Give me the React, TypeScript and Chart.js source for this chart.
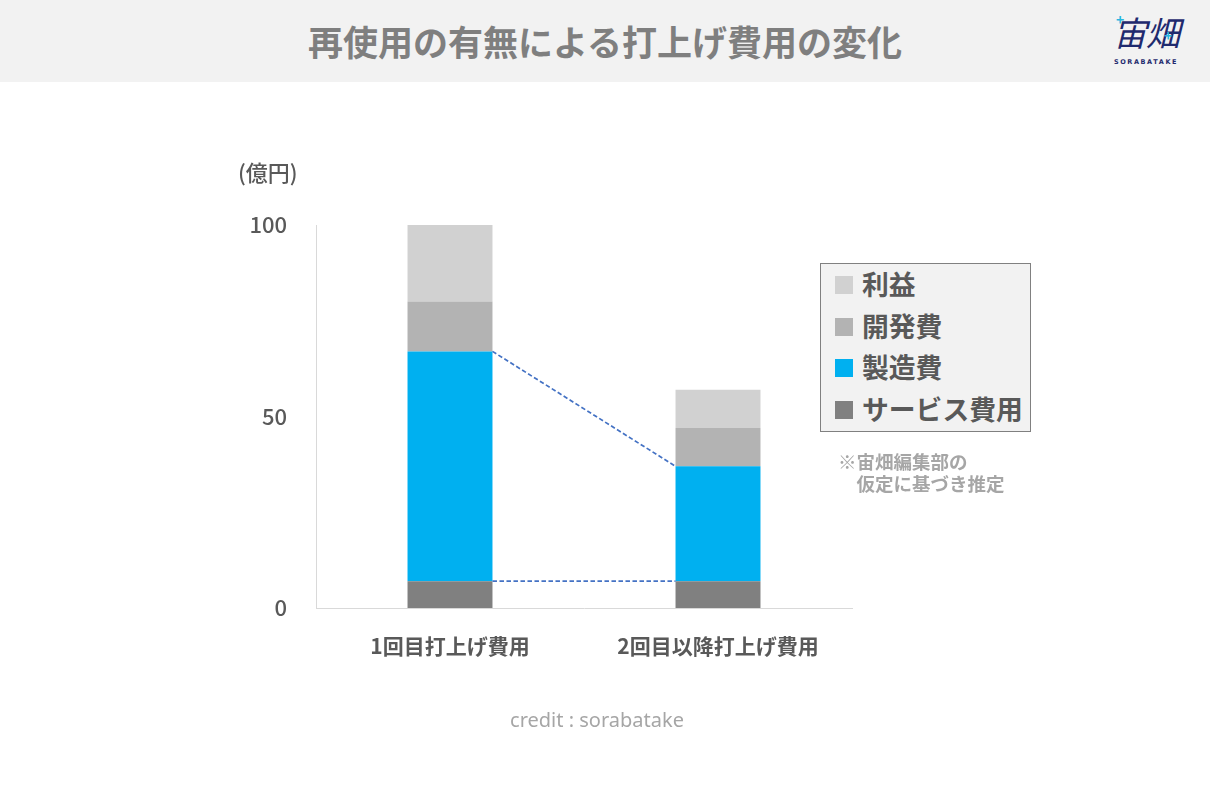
import React, { useEffect, useRef } from "react";
import { Chart, registerables } from "chart.js";

Chart.register(...registerables);

const categories = ["1回目打上げ費用", "2回目以降打上げ費用"];
const seriesNames = ["サービス費用", "製造費", "開発費", "利益"];
const serviceCost = [7, 7];
const manufacturingCost = [60, 30];
const developmentCost = [13, 10];
const profit = [20, 10];
const seriesColors = ["#808080", "#00b0f0", "#b3b3b3", "#d1d1d1"];
const yTicks = [0, 50, 100];

const JP = '"Noto Sans CJK JP", "Noto Sans", sans-serif';

const connectorPlugin = {
  id: "connectors",
  afterDatasetsDraw(chart: any) {
    const ctx = chart.ctx;
    ctx.save();
    ctx.strokeStyle = "#4472c4";
    ctx.lineWidth = 1.7;
    ctx.setLineDash([4.5, 2.5]);
    [0, 1].forEach((di) => {
      const meta = chart.getDatasetMeta(di);
      const a = meta.data[0] as any;
      const b = meta.data[1] as any;
      if (!a || !b) return;
      ctx.beginPath();
      ctx.moveTo(a.x + a.width / 2, a.y);
      ctx.lineTo(b.x - b.width / 2, b.y);
      ctx.stroke();
    });
    ctx.restore();
  },
};

export default function App() {
  const ref = useRef<HTMLCanvasElement>(null);

  useEffect(() => {
    if (!ref.current) return;
    const values = [serviceCost, manufacturingCost, developmentCost, profit];
    const chart = new Chart(ref.current, {
      type: "bar",
      data: {
        labels: categories,
        datasets: seriesNames.map((name, i) => ({
          label: name,
          data: values[i],
          backgroundColor: seriesColors[i],
          borderWidth: 0,
          barPercentage: 0.317,
          categoryPercentage: 1,
        })),
      },
      options: {
        responsive: false,
        animation: false,
        layout: { padding: { left: 216, right: 358, top: 225, bottom: 137 } },
        plugins: {
          legend: { display: false },
          tooltip: { enabled: false },
          title: { display: false },
        },
        scales: {
          x: {
            stacked: true,
            grid: { display: false, drawTicks: false },
            border: { display: true, color: "#d9d9d9", width: 1 },
            ticks: {
              color: "#595959",
              font: { family: JP, size: 21, weight: "bold" },
              padding: 25,
              maxRotation: 0,
            },
            afterFit: (s: any) => {
              s.height = 60;
            },
          },
          y: {
            stacked: true,
            min: 0,
            max: 100,
            grid: { display: false, drawTicks: false },
            border: { display: true, color: "#d9d9d9", width: 1 },
            afterBuildTicks: (s: any) => {
              s.ticks = yTicks.map((v) => ({ value: v }));
            },
            ticks: {
              color: "#595959",
              font: { family: JP, size: 22, weight: 500 },
              padding: 29,
            },
            afterFit: (s: any) => {
              s.width = 100;
            },
          },
        },
      },
      plugins: [connectorPlugin],
    });
    return () => chart.destroy();
  }, []);

  const legendOrder = [3, 2, 1, 0];

  return (
    <div
      style={{
        position: "absolute",
        left: 0,
        top: 0,
        width: 1210,
        height: 805,
        background: "#ffffff",
        overflow: "hidden",
        fontFamily: JP,
      }}
    >
      <div
        style={{
          position: "absolute",
          left: 0,
          top: 0,
          width: 1210,
          height: 82,
          background: "#f2f2f2",
        }}
      />
      <div
        style={{
          position: "absolute",
          left: 0,
          top: 0,
          width: 1210,
          height: 82,
          lineHeight: "82px",
          textAlign: "center",
          fontSize: 35,
          fontWeight: 700,
          color: "#7f7f7f",
        }}
      >
        再使用の有無による打上げ費用の変化
      </div>
      {/* logo */}
      <div
        style={{
          position: "absolute",
          left: 1104,
          top: 10,
          width: 84,
          height: 50,
          textAlign: "center",
        }}
      >
        <div
          style={{
            fontSize: 34,
            fontWeight: 400,
            fontStyle: "italic",
            color: "#1f2a6e",
            lineHeight: "44px",
            letterSpacing: -1,
          }}
        >
          宙畑
        </div>
        <div
          style={{
            position: "absolute",
            left: 12,
            top: 2,
            fontSize: 14,
            fontWeight: 700,
            color: "#29b6e0",
            lineHeight: "14px",
          }}
        >
          +
        </div>
        <div
          style={{
            position: "absolute",
            left: 60,
            top: 18,
            fontSize: 14,
            fontWeight: 700,
            color: "#29b6e0",
            lineHeight: "14px",
          }}
        >
          +
        </div>
        <div
          style={{
            fontFamily: '"DejaVu Sans", sans-serif',
            fontSize: 6.5,
            fontWeight: 700,
            color: "#1f2a6e",
            letterSpacing: 1.6,
            lineHeight: "8px",
            marginTop: 4,
          }}
        >
          SORABATAKE
        </div>
      </div>

      <canvas
        ref={ref}
        width={1210}
        height={805}
        style={{ position: "absolute", left: 0, top: 0, width: 1210, height: 805 }}
      />

      <div
        style={{
          position: "absolute",
          left: 238,
          top: 157,
          fontSize: 22,
          lineHeight: "28px",
          fontWeight: 500,
          color: "#595959",
        }}
      >
        (億円)
      </div>

      {/* legend */}
      <div
        style={{
          position: "absolute",
          left: 820,
          top: 263,
          width: 211,
          height: 169,
          boxSizing: "border-box",
          background: "#f2f2f2",
          border: "1px solid #808080",
        }}
      >
        {legendOrder.map((si, row) => (
          <div
            key={si}
            style={{
              position: "absolute",
              left: 14,
              top: 20 + row * 41.7 - 17,
              height: 34,
              display: "flex",
              alignItems: "center",
              whiteSpace: "nowrap",
            }}
          >
            <div
              style={{
                width: 18,
                height: 18,
                background: seriesColors[si],
                marginRight: 9,
                marginTop: 2,
              }}
            />
            <div
              style={{
                fontSize: 26.8,
                fontWeight: 700,
                color: "#595959",
                lineHeight: "34px",
              }}
            >
              {seriesNames[si]}
            </div>
          </div>
        ))}
      </div>

      <div
        style={{
          position: "absolute",
          left: 838,
          top: 451,
          fontSize: 18.5,
          fontWeight: 700,
          color: "#a6a6a6",
          lineHeight: "21.5px",
          whiteSpace: "pre",
        }}
      >
        {"※宙畑編集部の\n　仮定に基づき推定"}
      </div>

      <div
        style={{
          position: "absolute",
          left: 397,
          width: 400,
          top: 706,
          textAlign: "center",
          fontFamily: '"Noto Sans", sans-serif',
          fontSize: 20,
          lineHeight: "28px",
          color: "#a6a6a6",
        }}
      >
        credit : sorabatake
      </div>
    </div>
  );
}
